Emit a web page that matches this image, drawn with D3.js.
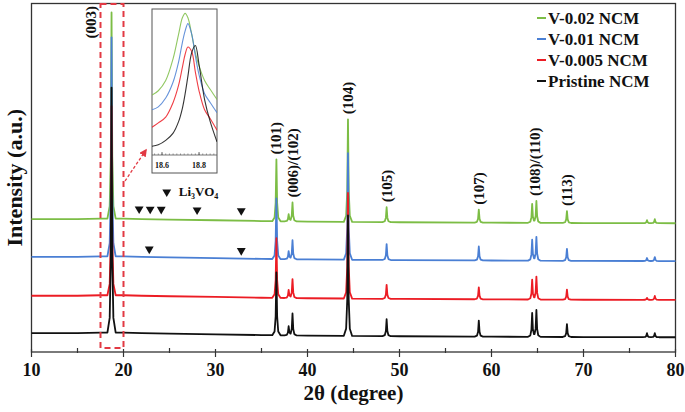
<!DOCTYPE html>
<html><head><meta charset="utf-8">
<script src="https://cdn.jsdelivr.net/npm/d3@7"></script>
<style>
body{margin:0;background:#fff}
svg{display:block}
text{font-family:"Liberation Serif","Times New Roman",serif;font-weight:bold;fill:#111}
</style>
</head><body>
<svg id="chart" width="685" height="412"></svg>
<script>
// ---------- data ----------
const seriesNames = ["V-0.02 NCM", "V-0.01 NCM", "V-0.005 NCM", "Pristine NCM"];
const seriesColors = ["#7cbd45", "#4a7fd4", "#ec1c24", "#111111"];
const xTicks = [10, 20, 30, 40, 50, 60, 70, 80];
const xMinorTicks = [15, 25, 35, 45, 55, 65, 75];

const peakTheta      = [18.70, 36.62, 37.95, 38.37, 44.40, 48.60, 58.62, 64.42, 64.88, 68.20, 76.90, 77.75];
const peaksV002      = [2070, 620, 70, 190, 1030, 150, 130, 190, 220, 120, 30, 40];
const peaksV001      = [2200, 610, 80, 190, 1070, 160, 140, 210, 240, 120, 30, 40];
const peaksV0005     = [1900, 600, 80, 190, 1060, 140, 120, 200, 230, 100, 20, 40];
const peaksPristine  = [2460, 630, 90, 220, 1210, 170, 160, 240, 270, 130, 40, 40];

const bgTheta  = [10, 15, 17.5, 20, 22, 25, 30, 35, 40, 50, 60, 70, 80];
const bgCounts = [190, 190, 195, 195, 190, 185, 178, 170, 165, 158, 154, 150, 148];
const stackOffsets = [1145, 765, 375, 0];

const profileDx   = [-0.45, -0.2, -0.08, 0, 0.08, 0.2, 0.45];
const profileFrac = [0, 0.06, 0.3, 1, 0.3, 0.06, 0];

const peakLabels     = ["(003)", "(101)", "(006)/(102)", "(104)", "(105)", "(107)", "(108)/(110)", "(113)"];
const peakLabelTheta = [16.45, 36.62, 38.37, 44.40, 48.60, 58.62, 64.70, 68.25];

const li3vo4Green = [21.7, 22.9, 24.1, 28.0, 32.8];
const li3vo4Blue  = [22.8, 32.8];

// inset: (003) peak zoom
const insetTheta    = [18.546, 18.58, 18.62, 18.66, 18.69, 18.71, 18.725, 18.74, 18.76, 18.78, 18.80, 18.83, 18.86, 18.897];
const insetV002     = [41, 44, 51, 66, 83, 94, 97, 94, 83, 70, 61, 51, 45, 38];
const insetV001     = [31, 33, 39, 50, 64, 77, 85, 90, 83, 68, 55, 42, 36, 29];
const insetV0005    = [19, 22, 26, 36, 48, 60, 69, 74, 71, 57, 44, 31, 25, 17];
const insetPristine = [6, 7, 10, 15, 23, 32, 42, 54, 70, 75, 62, 38, 23, 9];
const insetTicks    = [18.6, 18.8];

// ---------- build ----------
const allPeaks = [peaksV002, peaksV001, peaksV0005, peaksPristine];
const allInset = [insetV002, insetV001, insetV0005, insetPristine];

const svg = d3.select("#chart");
const L = 31.5, R = 675.5, T = 3.5, B = 352;
const x = d3.scaleLinear().domain([10, 80]).range([L, R]);
const y = d3.scaleLinear().domain([0, 3500]).range([B, T]);

function bgAt(t) {
  for (let i = 0; i < bgTheta.length - 1; i++) {
    if (t >= bgTheta[i] && t <= bgTheta[i + 1]) {
      const f = (t - bgTheta[i]) / (bgTheta[i + 1] - bgTheta[i]);
      return bgCounts[i] + f * (bgCounts[i + 1] - bgCounts[i]);
    }
  }
  return bgCounts[bgCounts.length - 1];
}
function shapeAt(d) {
  if (d <= profileDx[0] || d >= profileDx[profileDx.length - 1]) return 0;
  for (let i = 0; i < profileDx.length - 1; i++) {
    if (d >= profileDx[i] && d <= profileDx[i + 1]) {
      const f = (d - profileDx[i]) / (profileDx[i + 1] - profileDx[i]);
      return profileFrac[i] + f * (profileFrac[i + 1] - profileFrac[i]);
    }
  }
  return 0;
}
let samples = bgTheta.slice();
peakTheta.forEach(p => profileDx.forEach(dx => samples.push(+(p + dx).toFixed(3))));
samples = Array.from(new Set(samples)).sort((a, b) => a - b);

const seriesPoints = allPeaks.map((heights, si) => samples.map(t => {
  let v = bgAt(t);
  peakTheta.forEach((p, i) => { v += heights[i] * shapeAt(t - p); });
  return [t, v + stackOffsets[si]];
}));

// frame
svg.append("rect").attr("x", L).attr("y", T).attr("width", R - L).attr("height", B - T)
  .attr("fill", "none").attr("stroke", "#333").attr("stroke-width", 1.3);

// ticks
const ax = svg.append("g");
ax.selectAll(".maj").data(xTicks).join("line")
  .attr("x1", d => x(d)).attr("x2", d => x(d)).attr("y1", B - 3).attr("y2", B + 5)
  .attr("stroke", "#333").attr("stroke-width", 1.2);
ax.selectAll(".min").data(xMinorTicks).join("line")
  .attr("x1", d => x(d)).attr("x2", d => x(d)).attr("y1", B - 4).attr("y2", B + 1)
  .attr("stroke", "#333").attr("stroke-width", 1.2);
ax.selectAll(".lbl").data(xTicks).join("text")
  .attr("x", d => x(d)).attr("y", B + 24).attr("text-anchor", "middle")
  .attr("font-size", 18).text(d => d);

svg.append("text").attr("x", (L + R) / 2).attr("y", 400).attr("text-anchor", "middle")
  .attr("font-size", 21).text("2θ (degree)");
svg.append("text").attr("transform", `translate(22,${(T + B) / 2}) rotate(-90)`)
  .attr("text-anchor", "middle").attr("font-size", 22).text("Intensity (a.u.)");

// series lines (green first, black last on top)
const line = d3.line().x(d => x(d[0])).y(d => y(d[1]));
seriesPoints.forEach((pts, si) => {
  svg.append("path").datum(pts).attr("d", line).attr("fill", "none")
    .attr("stroke", seriesColors[si]).attr("stroke-width", 1.8).attr("stroke-linejoin", "round");
});

// peak labels
const green = seriesPoints[0];
peakLabels.forEach((lab, i) => {
  const t = peakLabelTheta[i];
  const t0 = x(t);
  if (i === 0) {
    svg.append("text").attr("transform", `translate(${t0},6) rotate(-90)`)
      .attr("text-anchor", "end").attr("dominant-baseline", "central")
      .attr("font-size", 15).text(lab);
  } else {
    const top = d3.max(green.filter(d => Math.abs(d[0] - t) < 0.35), d => d[1]);
    svg.append("text").attr("transform", `translate(${t0},${y(top) - 5}) rotate(-90)`)
      .attr("text-anchor", "start").attr("dominant-baseline", "central")
      .attr("font-size", 15).text(lab);
  }
});

// Li3VO4 markers
const tri = d3.symbol().type(d3.symbolTriangle).size(34)();
li3vo4Green.forEach(t => {
  svg.append("path").attr("d", tri).attr("fill", "#111")
    .attr("transform", `translate(${x(t)},${y(bgAt(t) + stackOffsets[0]) - 10}) rotate(180)`);
});
li3vo4Blue.forEach(t => {
  svg.append("path").attr("d", tri).attr("fill", "#111")
    .attr("transform", `translate(${x(t)},${y(bgAt(t) + stackOffsets[1]) - 8}) rotate(180)`);
});
svg.append("path").attr("d", tri).attr("fill", "#111")
  .attr("transform", `translate(${x(24.7)},192) rotate(180)`);
const lt = svg.append("text").attr("x", x(24.7) + 12).attr("y", 196).attr("font-size", 13);
lt.append("tspan").text("Li");
lt.append("tspan").attr("font-size", 8).attr("dy", 3).text("3");
lt.append("tspan").attr("dy", -3).text("VO");
lt.append("tspan").attr("font-size", 8).attr("dy", 3).text("4");

// legend
seriesNames.forEach((n, i) => {
  const yy = 18 + i * 21;
  svg.append("line").attr("x1", 537).attr("x2", 546).attr("y1", yy).attr("y2", yy)
    .attr("stroke", seriesColors[i]).attr("stroke-width", 2);
  svg.append("text").attr("x", 548).attr("y", yy).attr("dominant-baseline", "central")
    .attr("font-size", 17).text(n);
});

// dashed highlight box
const redDash = "#e23a44";
svg.append("rect").attr("x", x(17.5)).attr("y", 4).attr("width", x(20.0) - x(17.5)).attr("height", 344)
  .attr("fill", "none").attr("stroke", redDash).attr("stroke-width", 2).attr("stroke-dasharray", "6,4");

// arrow
svg.append("defs").append("marker").attr("id", "ah").attr("viewBox", "0 0 10 10")
  .attr("refX", 8).attr("refY", 5).attr("markerWidth", 6).attr("markerHeight", 6).attr("orient", "auto")
  .append("path").attr("d", "M0,0L10,5L0,10z").attr("fill", redDash);
svg.append("line").attr("x1", 125).attr("y1", 181).attr("x2", 146).attr("y2", 150)
  .attr("stroke", redDash).attr("stroke-width", 1.3).attr("stroke-dasharray", "3,2")
  .attr("marker-end", "url(#ah)");

// inset
const xi = d3.scaleLinear().domain([18.546, 18.897]).range([152, 217]);
const yi = d3.scaleLinear().domain([0, 100]).range([155, 9]);
const ins = svg.append("g");
ins.append("rect").attr("x", 152).attr("y", 9).attr("width", 65).attr("height", 164)
  .attr("fill", "#fff").attr("stroke", "#555").attr("stroke-width", 1);
svg.select("defs").append("clipPath").attr("id", "ic").append("rect")
  .attr("x", 152).attr("y", 9).attr("width", 65).attr("height", 146);
const li = d3.line().x((d, i) => xi(insetTheta[i])).y(d => yi(d)).curve(d3.curveCatmullRom);
allInset.forEach((arr, si) => {
  ins.append("path").datum(arr).attr("d", li).attr("fill", "none").attr("clip-path", "url(#ic)")
    .attr("stroke", seriesColors[si]).attr("stroke-width", 1.1).attr("opacity", 0.85);
});
ins.append("line").attr("x1", 152).attr("x2", 217).attr("y1", 155).attr("y2", 155)
  .attr("stroke", "#555").attr("stroke-width", 0.8);
ins.selectAll(".it").data(d3.range(18.56, 18.89, 0.02)).join("line")
  .attr("x1", d => xi(d)).attr("x2", d => xi(d)).attr("y1", 155).attr("y2", 153.5)
  .attr("stroke", "#666").attr("stroke-width", 0.7);
ins.selectAll(".itm").data(insetTicks).join("line")
  .attr("x1", d => xi(d)).attr("x2", d => xi(d)).attr("y1", 155).attr("y2", 152)
  .attr("stroke", "#444").attr("stroke-width", 0.8);
ins.selectAll(".itl").data(insetTicks).join("text")
  .attr("x", d => xi(d)).attr("y", 168).attr("text-anchor", "middle")
  .attr("font-size", 8).attr("fill", "#333").text(d => d.toFixed(1));
</script>
</body></html>
